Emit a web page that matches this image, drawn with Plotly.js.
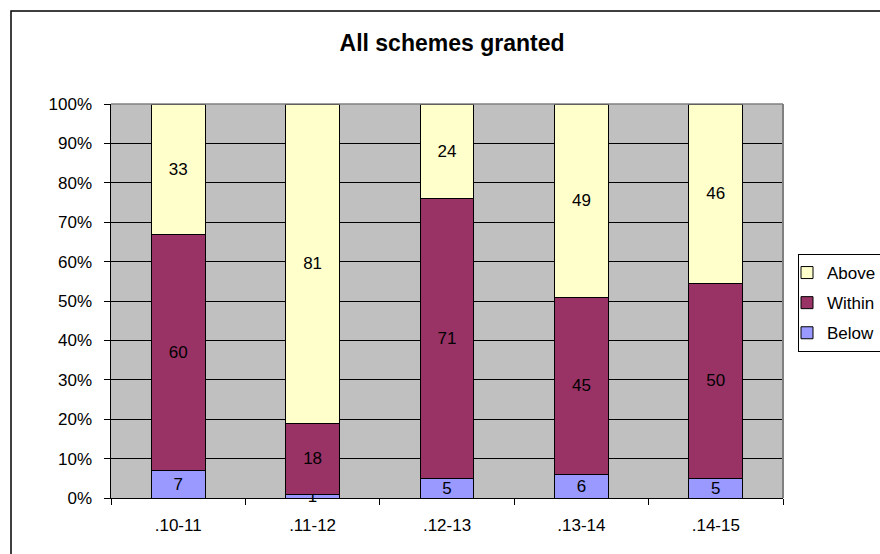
<!DOCTYPE html>
<html>
<head>
<meta charset="utf-8">
<script src="https://cdn.plot.ly/plotly-3.0.1.min.js"></script>
<style>
html,body{margin:0;padding:0;background:#fff;overflow:hidden;width:880px;height:554px;}
#chart{width:900px;height:570px;}
</style>
</head>
<body>
<div id="chart"></div>
<script>
var categories = [".10-11", ".11-12", ".12-13", ".13-14", ".14-15"];
var below  = [7, 1, 5, 6, 5];
var within = [60, 18, 71, 45, 50];
var above  = [33, 81, 24, 49, 46];
var yTickVals = [0,10,20,30,40,50,60,70,80,90,100];
var yTickText = ["0%","10%","20%","30%","40%","50%","60%","70%","80%","90%","100%"];

var FONT = "Liberation Sans, Arial, sans-serif";

function mk(name, vals, color, rank) {
  return {
    type: "bar", name: name, x: categories, y: vals, legendgroup: name, legendrank: rank,
    text: vals.map(String), textposition: "inside", insidetextanchor: "middle",
    textangle: 0, constraintext: "none", cliponaxis: false,
    textfont: {family: FONT, size: 17, color: "#000"},
    marker: {color: color, line: {color: "#000", width: 1}},
    hoverinfo: "skip"
  };
}
var data = [
  mk("Below", below, "#9999FF", 3),
  mk("Within", within, "#993366", 2),
  mk("Above", above, "#FFFFCC", 1)
];

var W = 900, H = 570, L = 111, R = 783, T = 104, B = 498;
var pw = R - L, ph = B - T;
var layout = {
  width: W, height: H,
  margin: {l: L, r: W - R, t: T, b: H - B},
  paper_bgcolor: "#fff", plot_bgcolor: "#C0C0C0",
  barmode: "stack", barnorm: "percent", bargap: 0.6,
  font: {family: FONT, size: 17, color: "#000"},
  title: {text: "<b>All schemes granted</b>", font: {family: FONT, size: 23, color: "#000"},
          x: (452 - L) / pw, xref: "paper", y: 1 - 43 / H, yanchor: "middle", xanchor: "center"},
  xaxis: {type: "category", tickson: "boundaries", ticks: "outside", ticklen: 6, tickcolor: "#000",
          showgrid: false, showline: true, linecolor: "#000", linewidth: 1,
          tickfont: {family: FONT, size: 17}, ticklabelstandoff: 12},
  yaxis: {range: [0, 100], tickvals: yTickVals, ticktext: yTickText, ticks: "outside", ticklen: 6,
          tickcolor: "#000", showgrid: true, gridcolor: "#000", gridwidth: 1, zeroline: false,
          showline: true, linecolor: "#000", linewidth: 1.5,
          tickfont: {family: FONT, size: 17}, ticklabelstandoff: 8},
  legend: {x: (798 - L) / pw, xanchor: "left", y: 1 - (254 - T) / ph, yanchor: "top",
           traceorder: "grouped", tracegroupgap: 5, indentation: -12,
           bordercolor: "#000", borderwidth: 1, bgcolor: "#fff",
           font: {family: FONT, size: 17}},
  shapes: [
    {type: "line", xref: "paper", yref: "paper", x0: 0, x1: 1, y0: 1, y1: 1,
     line: {color: "#808080", width: 1.5}, layer: "above"},
    {type: "line", xref: "paper", yref: "paper", x0: 1, x1: 1, y0: 0, y1: 1,
     line: {color: "#808080", width: 2}, layer: "above"},
    {type: "rect", xref: "paper", yref: "paper",
     x0: (11 - L) / pw, x1: (895 - L) / pw, y0: (B - 565) / ph, y1: 1 + (T - 11) / ph,
     line: {color: "#000", width: 1.5}, layer: "below"}
  ]
};
Plotly.newPlot("chart", data, layout, {displayModeBar: false, staticPlot: true});
</script>
</body>
</html>
